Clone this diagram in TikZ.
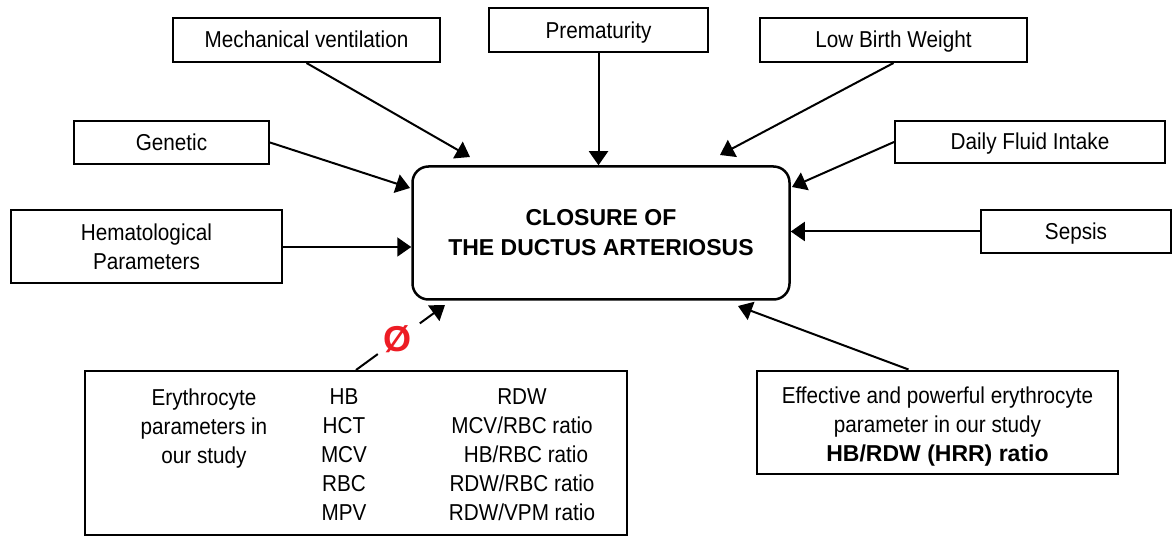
\documentclass[tikz,border=0pt]{standalone}
\usepackage{fontspec}
\setmainfont{Liberation Sans}
\newfontfamily\narrowfont[FakeStretch=0.9]{Liberation Sans}
\usetikzlibrary{arrows.meta}
\usetikzlibrary{positioning}
\usetikzlibrary{calc}
\definecolor{nullred}{RGB}{237,28,36}

\begin{document}
\begin{tikzpicture}[x=1pt, y=-1pt, line width=2pt,
    every node/.style={font=\narrowfont\fontsize{23}{29}\selectfont, inner sep=0pt, align=center},
    factor/.style={draw, rectangle},
    oneline/.style={text height=16pt, text depth=0pt},
    arr/.style={-{Triangle[length=14pt, width=19pt]}}]
          \useasboundingbox (0,0) rectangle (1173,537);

          % central outcome
          \node[factor, rounded corners=16pt, line width=2.5pt, minimum width=377pt, minimum height=133pt,
                font=\bfseries\fontsize{23}{30}\selectfont] (closure) at (601,233) {CLOSURE OF\\THE DUCTUS ARTERIOSUS};

          % influencing factors
          \node[factor, oneline, minimum width=267pt, minimum height=44pt] (mech) at (306.5,40) {Mechanical ventilation};
          \node[factor, oneline, minimum width=219pt, minimum height=44pt] (prem) at (598.5,30.5) {Prematurity};
          \node[factor, oneline, minimum width=267pt, minimum height=44pt] (lbw) at (893.5,40) {Low Birth Weight};
          \node[factor, oneline, minimum width=195pt, minimum height=43pt] (gen) at (171.5,142.5) {Genetic};
          \node[factor, oneline, minimum width=270pt, minimum height=42pt] (dfi) at (1030,142) {Daily Fluid Intake};
          \node[factor, minimum width=271pt, minimum height=73pt] (hem) at (146.5,247) {Hematological\\Parameters};
          \node[factor, oneline, minimum width=190pt, minimum height=43pt] (sep) at (1076,231.5) {Sepsis};

          % erythrocyte parameters
          \node[factor, minimum width=542pt, minimum height=164pt] (ery) at (356,453) {};
          \node[anchor=north] (eryLabel) at (204,388) {Erythrocyte\\parameters in\\our study};
          \node[anchor=north] (eryBasic) at (344,388) {HB\\HCT\\MCV\\RBC\\MPV};
          \node[anchor=north] (eryRatio) at (522,388) {RDW\\MCV/RBC ratio\\\hspace*{8pt}HB/RBC ratio\\RDW/RBC ratio\\RDW/VPM ratio};

          \node[factor, minimum width=361pt, minimum height=103pt] (eff) at (937.5,422) {};
          \node[anchor=north] (effText) at (937.5,386)
                {Effective and powerful erythrocyte\\parameter in our study\\{\rmfamily\bfseries\fontsize{23}{29}\selectfont HB/RDW (HRR) ratio}};

          % arrow ends
          \coordinate (mechEnd) at (470,157);
          \coordinate (lbwEnd) at (720,155);
          \coordinate (genEnd) at (410,188);
          \coordinate (dfiEnd) at (792,187);
          \coordinate (eryEnd) at (445,305);
          \coordinate (effStart) at ($(eff.north)+(-29,0)$);
          \coordinate (effEnd) at (738,306);

          \draw[arr] (mech.south) -- (mechEnd);
          \draw[arr] (prem.south) -- (prem.south |- closure.north);
          \draw[arr] (lbw.south) -- (lbwEnd);
          \draw[arr] (gen.east) -- (genEnd);
          \draw[arr] (dfi.west) -- (dfiEnd);
          \draw[arr] (hem.east) -- (hem.east -| closure.west);
          \draw[arr] (sep.west) -- (sep.west -| closure.east);
          \draw[arr, dash pattern=on 27pt off 52pt] (ery.north) -- (eryEnd);
          \draw[arr] (effStart) -- (effEnd);

          \node[text=nullred, font=\rmfamily\bfseries\fontsize{36}{36}\selectfont] (nullMark) at (397,339) {Ø};
        \end{tikzpicture}
\end{document}
